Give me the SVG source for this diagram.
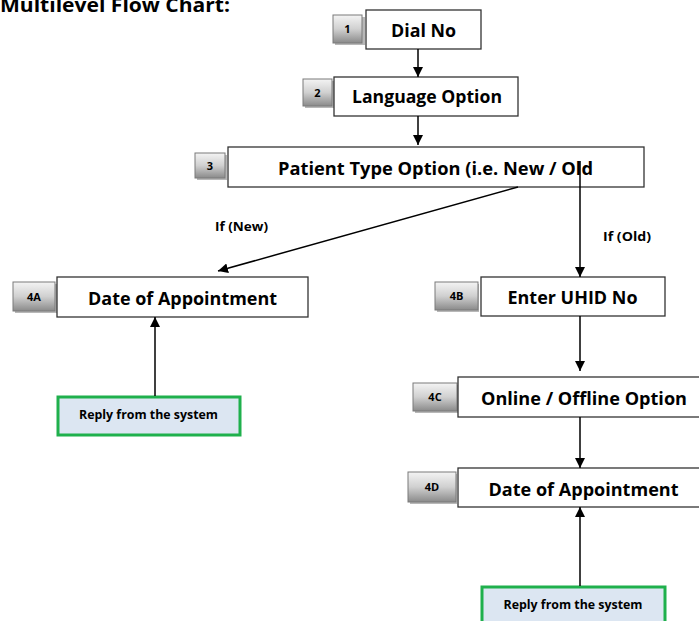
<svg xmlns="http://www.w3.org/2000/svg" width="699" height="621" viewBox="0 0 699 621">
<defs>
<linearGradient id="bg" x1="0" y1="0" x2="0" y2="1">
<stop offset="0" stop-color="#f4f4f4"/>
<stop offset="0.5" stop-color="#d0d0d0"/>
<stop offset="1" stop-color="#8a8a8a"/>
</linearGradient>
<marker id="ah" viewBox="0 0 10 10" refX="10" refY="5" markerWidth="10" markerHeight="10" markerUnits="userSpaceOnUse" orient="auto">
<path d="M0,0 L10,5 L0,10 z" fill="#000"/>
</marker>
</defs>
<style>
.box{fill:#fff;stroke:#333;stroke-width:1.3}
.badge{fill:url(#bg);stroke:#7a7a7a;stroke-width:1}
.shadow{fill:#b8b8b8}
.reply{fill:#dce6f2;stroke:#1fb04c;stroke-width:3}
.t{font-family:"Open Sans","Liberation Sans",sans-serif;font-weight:bold;fill:#000;text-anchor:middle}
.main{font-size:18px}
.bt{font-size:11px}
.rt{font-size:12px}
.lbl{font-size:12px}
.c{stroke:#000;stroke-width:1.5;fill:none;marker-end:url(#ah)}
</style>
<text class="t" x="0" y="11.5" style="text-anchor:start;font-size:19px" textLength="230" lengthAdjust="spacingAndGlyphs">Multilevel Flow Chart:</text>

<g id="n1">
<rect class="shadow" x="335" y="17" width="30" height="28"/>
<rect class="badge" x="333" y="15" width="29" height="28"/>
<text class="t bt" x="347.5" y="33">1</text>
<rect class="box" x="366" y="10" width="115" height="39"/>
<text class="t main" x="423.5" y="36.5" textLength="65" lengthAdjust="spacingAndGlyphs">Dial No</text>
</g>

<g id="n2">
<rect class="shadow" x="305" y="81" width="29" height="27"/>
<rect class="badge" x="303" y="79" width="29" height="27"/>
<text class="t bt" x="317.5" y="96.5">2</text>
<rect class="box" x="334" y="77" width="184" height="39"/>
<text class="t main" x="427" y="103" textLength="150" lengthAdjust="spacingAndGlyphs">Language Option</text>
</g>

<g id="n3">
<rect class="shadow" x="197" y="155" width="30" height="25"/>
<rect class="badge" x="195" y="153" width="30" height="25"/>
<text class="t bt" x="210" y="169.5">3</text>
<rect class="box" x="228" y="147" width="416" height="40"/>
<text class="t main" x="435.5" y="175" textLength="315" lengthAdjust="spacingAndGlyphs">Patient Type Option (i.e. New / Old</text>
</g>

<g id="n4a">
<rect class="shadow" x="15" y="284" width="42" height="29"/>
<rect class="badge" x="13" y="282" width="42" height="29"/>
<text class="t bt" x="34" y="300.5">4A</text>
<rect class="box" x="57" y="277" width="251" height="40"/>
<text class="t main" x="182.5" y="305" textLength="189" lengthAdjust="spacingAndGlyphs">Date of Appointment</text>
</g>

<g id="r1">
<rect class="reply" x="58" y="397" width="182" height="38"/>
<text class="t rt" x="148.5" y="419" textLength="139" lengthAdjust="spacingAndGlyphs">Reply from the system</text>
</g>

<g id="n4b">
<rect class="shadow" x="437" y="284" width="42" height="28"/>
<rect class="badge" x="435" y="282" width="43" height="28"/>
<text class="t bt" x="456.5" y="300">4B</text>
<rect class="box" x="481" y="277" width="184" height="39"/>
<text class="t main" x="572.5" y="304" textLength="130" lengthAdjust="spacingAndGlyphs">Enter UHID No</text>
</g>

<g id="n4c">
<rect class="shadow" x="415" y="385" width="43" height="28"/>
<rect class="badge" x="413" y="383" width="44" height="28"/>
<text class="t bt" x="435" y="401">4C</text>
<rect class="box" x="458" y="377" width="245" height="40"/>
<text class="t main" x="584" y="405" textLength="206" lengthAdjust="spacingAndGlyphs">Online / Offline Option</text>
</g>

<g id="n4d">
<rect class="shadow" x="410" y="474" width="47" height="30"/>
<rect class="badge" x="408" y="472" width="48" height="30"/>
<text class="t bt" x="432" y="491">4D</text>
<rect class="box" x="458" y="468" width="245" height="39"/>
<text class="t main" x="583.5" y="495.5" textLength="190" lengthAdjust="spacingAndGlyphs">Date of Appointment</text>
</g>

<g id="r2">
<rect class="reply" x="482" y="587" width="183" height="40"/>
<text class="t rt" x="573" y="609" textLength="139" lengthAdjust="spacingAndGlyphs">Reply from the system</text>
</g>

<g id="labels">
<text class="t lbl" x="241.5" y="231" textLength="53" lengthAdjust="spacingAndGlyphs">If (New)</text>
<text class="t lbl" x="627" y="241" textLength="48" lengthAdjust="spacingAndGlyphs">If (Old)</text>
</g>

<g id="connectors">
<line class="c" x1="418" y1="49" x2="418" y2="77"/>
<line class="c" x1="418" y1="116" x2="418" y2="145"/>
<line class="c" x1="518" y1="187" x2="218" y2="271"/>
<line class="c" x1="580" y1="161" x2="580" y2="277"/>
<line class="c" x1="155" y1="396" x2="155" y2="317"/>
<line class="c" x1="580" y1="316" x2="580" y2="371"/>
<line class="c" x1="580" y1="417" x2="580" y2="468"/>
<line class="c" x1="580" y1="586" x2="580" y2="507"/>
</g>
</svg>
